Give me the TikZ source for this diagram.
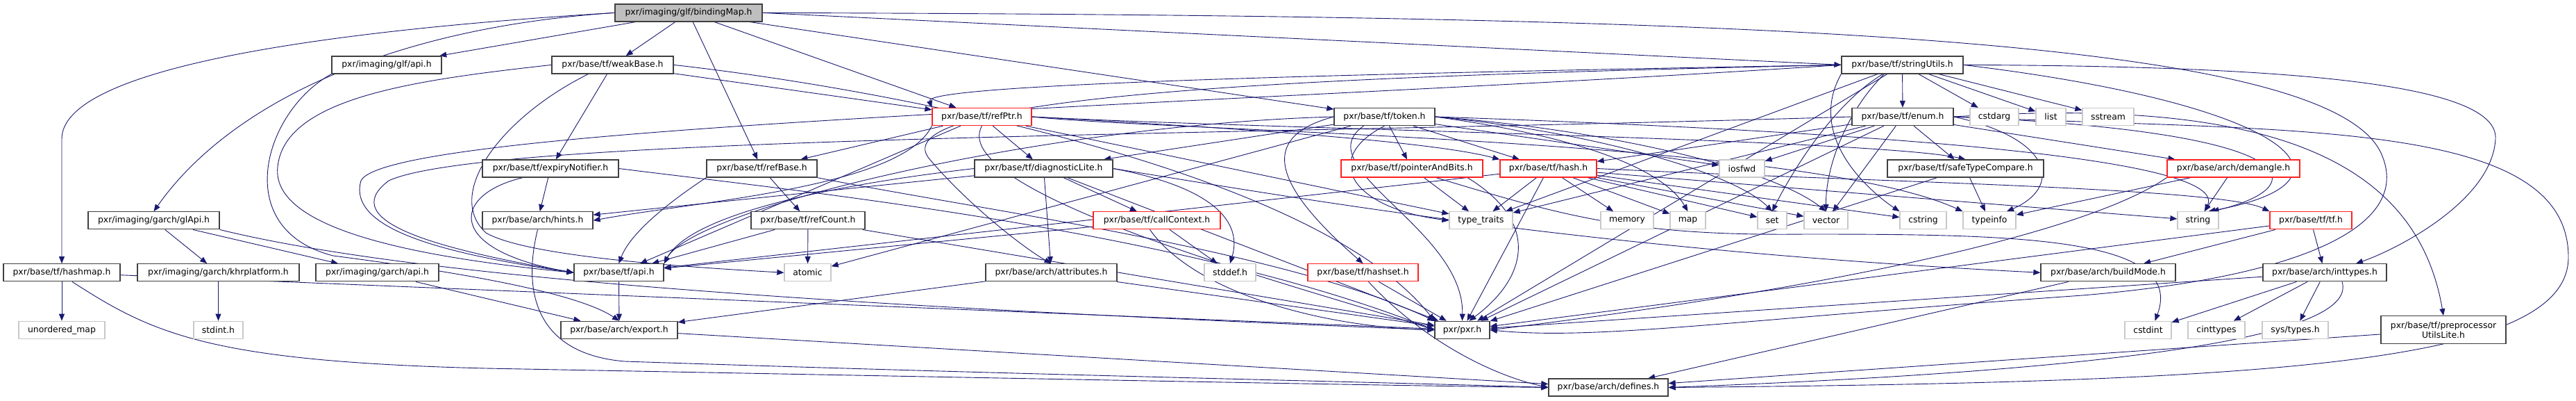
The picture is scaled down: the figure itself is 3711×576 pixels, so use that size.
\documentclass[tikz,border=0pt]{standalone}
\usepackage{fontspec}
\newfontfamily\djfont{DejaVu Sans}
\usetikzlibrary{arrows.meta}
\definecolor{edgeblue}{HTML}{191970}
\definecolor{boxborder}{HTML}{404040}
\definecolor{extgray}{HTML}{C8C8C8}
\definecolor{bmfill}{HTML}{BFBFBF}
\definecolor{truncred}{HTML}{FF2020}
\pgfdeclarelayer{bgpaper}
\pgfdeclarelayer{edges}
\pgfsetlayers{bgpaper,edges,main}
\begin{document}
\begin{tikzpicture}[x=1pt,y=-1pt,
  nb/.style={draw=boxborder, line width=1.3pt, fill=white, minimum height=25pt, inner sep=0pt,
    font={\djfont\fontsize{12.4}{13.6}\selectfont}, text=black},
  ext/.style={nb, draw=extgray},
  trunc/.style={nb, draw=truncred},
  e/.style={draw=edgeblue, line width=0.9pt, -{Triangle[length=10pt,width=8pt]}}]
\begin{pgfonlayer}{bgpaper}
\fill[white] (0,0) rectangle (3711,576);
\end{pgfonlayer}
\useasboundingbox (0,0) rectangle (3711,576);
% ---------------- nodes ----------------
\node[nb, fill=bmfill, minimum width=212pt] (bm) at (992,18.4) {pxr/imaging/glf/bindingMap.h};
\node[nb, minimum width=158pt] (glfapi) at (557,93.4) {pxr/imaging/glf/api.h};
\node[nb, minimum width=175pt] (weak) at (882.5,93.4) {pxr/base/tf/weakBase.h};
\node[nb, minimum width=175pt] (str) at (2740.5,93.4) {pxr/base/tf/stringUtils.h};
\node[trunc, minimum width=143pt] (refptr) at (1414.5,168) {pxr/base/tf/refPtr.h};
\node[nb, minimum width=145pt] (token) at (1994.5,168) {pxr/base/tf/token.h};
\node[nb, minimum width=146pt] (enum) at (2741,168) {pxr/base/tf/enum.h};
\node[ext, minimum width=70pt] (cstdarg) at (2873,168) {cstdarg};
\node[ext, minimum width=43pt] (list) at (2954.5,168) {list};
\node[ext, minimum width=74pt] (sstream) at (3037,168) {sstream};
\node[nb, minimum width=196pt] (expiry) at (793,242.5) {pxr/base/tf/expiryNotifier.h};
\node[nb, minimum width=159pt] (refbase) at (1097.5,242.5) {pxr/base/tf/refBase.h};
\node[nb, minimum width=199pt] (diag) at (1503.5,242.5) {pxr/base/tf/diagnosticLite.h};
\node[trunc, minimum width=204pt] (pab) at (2034,242.5) {pxr/base/tf/pointerAndBits.h};
\node[trunc, minimum width=139pt] (hash) at (2230.5,242.5) {pxr/base/tf/hash.h};
\node[ext, minimum width=65pt] (iosfwd) at (2509.5,242.5) {iosfwd};
\node[nb, minimum width=225pt] (stc) at (2831.5,242.5) {pxr/base/tf/safeTypeCompare.h};
\node[trunc, minimum width=191pt] (demangle) at (3217.5,242.5) {pxr/base/arch/demangle.h};
\node[nb, minimum width=189pt] (glapi) at (221.5,317.3) {pxr/imaging/garch/glApi.h};
\node[nb, minimum width=159pt] (hints) at (774.5,317.3) {pxr/base/arch/hints.h};
\node[nb, minimum width=164pt] (refcount) at (1164,317.3) {pxr/base/tf/refCount.h};
\node[trunc, minimum width=183pt] (callctx) at (1666.5,317.3) {pxr/base/tf/callContext.h};
\node[ext, minimum width=91pt] (typetraits) at (2133.5,317.3) {type\_traits};
\node[ext, minimum width=76pt] (memory) at (2344,317.3) {memory};
\node[ext, minimum width=51pt] (map) at (2431.5,317.3) {map};
\node[ext, minimum width=42pt] (set) at (2553,317.3) {set};
\node[ext, minimum width=63pt] (vector) at (2630.5,317.3) {vector};
\node[ext, minimum width=67pt] (cstring) at (2770.5,317.3) {cstring};
\node[ext, minimum width=76pt] (typeinfo) at (2866,317.3) {typeinfo};
\node[ext, minimum width=59pt] (string) at (3166.5,317.3) {string};
\node[trunc, minimum width=118pt] (tftf) at (3329,317.3) {pxr/base/tf/tf.h};
\node[nb, minimum width=168pt] (hashmap) at (89,392.3) {pxr/base/tf/hashmap.h};
\node[nb, minimum width=233pt] (khr) at (314.5,392.3) {pxr/imaging/garch/khrplatform.h};
\node[nb, minimum width=177pt] (garchapi) at (543.5,392.3) {pxr/imaging/garch/api.h};
\node[nb, minimum width=129pt] (tfapi) at (891.5,392.3) {pxr/base/tf/api.h};
\node[ext, minimum width=67pt] (atomic) at (1163.5,392.3) {atomic};
\node[nb, minimum width=189pt] (attr) at (1514.5,392.3) {pxr/base/arch/attributes.h};
\node[ext, minimum width=74pt] (stddef) at (1772,392.3) {stddef.h};
\node[trunc, minimum width=159pt] (hashset) at (1963.5,392.3) {pxr/base/tf/hashset.h};
\node[nb, minimum width=194pt] (buildmode) at (3037,392.3) {pxr/base/arch/buildMode.h};
\node[nb, minimum width=178pt] (inttypes) at (3349,392.3) {pxr/base/arch/inttypes.h};
\node[ext, minimum width=124pt] (umap) at (89,474.8) {unordered\_map};
\node[ext, minimum width=71pt] (stdint) at (314.5,474.8) {stdint.h};
\node[nb, minimum width=168pt] (export) at (892,474.8) {pxr/base/arch/export.h};
\node[nb, minimum width=79pt] (pxr) at (2106.5,474.8) {pxr/pxr.h};
\node[ext, minimum width=67pt] (cstdint) at (3094.5,474.8) {cstdint};
\node[ext, minimum width=82pt] (cinttypes) at (3193,474.8) {cinttypes};
\node[ext, minimum width=95pt] (systypes) at (3306.5,474.8) {sys/types.h};
\node[nb, minimum width=180pt, minimum height=40pt, align=center] (ppu) at (3520,474.8) {pxr/base/tf/preprocessor\\UtilsLite.h};
\node[nb, minimum width=172pt] (defines) at (2317,557.5) {pxr/base/arch/defines.h};
% ---------------- edges ----------------
\begin{pgfonlayer}{edges}
% bindingMap
\draw[e] (bm) -- (glfapi);
\draw[e] (bm.west) .. controls (560,40) and (330,150) .. (glapi.north);
\draw[e] (bm.west) .. controls (450,45) and (89,100) .. (89,200) -- (hashmap.north);
\draw[e] (bm) -- (weak);
\draw[e] (bm) -- (refbase);
\draw[e] (bm) -- (refptr);
\draw[e] (bm) -- (token);
\draw[e] (bm.east) -- (str.west);
\draw[e] (bm.east) .. controls (2500,22) and (3350,50) .. (3430,220) .. controls (3480,330) and (3300,400) .. (3000,425) .. controls (2500,460) and (2300,490) .. (pxr.east);
% glf/api
\draw[e] (glfapi.south west) .. controls (380,160) and (330,330) .. (480,368) .. controls (650,390) and (830,420) .. (export.north);
% weakBase
\draw[e] (weak) -- (expiry);
\draw[e] (weak.west) .. controls (600,115) and (410,140) .. (400,240) .. controls (390,330) and (600,370) .. (tfapi.west);
\draw[e] ([xshift=-35pt]weak.south) .. controls (720,170) and (640,280) .. (700,335) .. controls (760,370) and (1000,385) .. (atomic.west);
\draw[e] (weak) -- (refptr);
\draw[e] (weak.east) .. controls (1300,130) and (1900,250) .. (pxr.north west);
% stringUtils
\draw[e] (str) -- (enum);
\draw[e] (str) -- (cstdarg);
\draw[e] (str) -- (list);
\draw[e] (str) -- (sstream);
\draw[e] ([xshift=-28pt]str.south) .. controls (2640,150) and (2580,250) .. (set.north);
\draw[e] ([xshift=-26pt]str.south) .. controls (2660,160) and (2630,240) .. (vector.north);
\draw[e] (str.west) .. controls (2000,105) and (1330,120) .. (refptr.north west);
\draw[e] (str.west) .. controls (2000,108) and (1250,130) .. (1340,230) .. controls (1400,300) and (1480,360) .. (attr.north);
\draw[e] (str.west) .. controls (1800,150) and (560,180) .. (520,260) .. controls (500,330) and (640,365) .. (tfapi.west);
\draw[e] (str.east) .. controls (3300,95) and (3600,120) .. (3595,200) .. controls (3590,290) and (3450,360) .. ([xshift=45pt]inttypes.north);
\draw[e] (str.east) .. controls (3300,150) and (3420,260) .. ([xshift=15pt]string.north);
\draw[e] (str.south west) .. controls (2600,200) and (2700,280) .. (cstring.north west);
\draw[e] (str) -- (typetraits);
\draw[e] (str) -- (pxr);
% refPtr
\draw[e] (refptr) -- (diag);
\draw[e] (refptr) -- (refbase);
\draw[e] (refptr.east) .. controls (1800,185) and (2700,200) .. (stc.north);
\draw[e] (refptr) -- (tfapi);
\draw[e] (refptr.south west) .. controls (1300,270) and (1000,290) .. (hints.east);
\draw[e] (refptr.east) .. controls (1700,190) and (2600,200) .. (typeinfo.north west);
\draw[e] (refptr) -- (typetraits);
\draw[e] (refptr.east) .. controls (1700,180) and (2050,200) .. (hash.north west);
\draw[e] (refptr.south) .. controls (1360,280) and (1900,420) .. (pxr.west);
% token
\draw[e] (token) -- (pab);
\draw[e] (token) -- (hash);
\draw[e] (token.south) .. controls (1900,230) and (1950,300) .. (typetraits.west);
\draw[e] ([xshift=-30pt]token.south) .. controls (1880,240) and (2110,330) .. (pxr.north);
\draw[e] (token.west) .. controls (1800,200) and (1850,280) .. (hashset.north);
\draw[e] (token) -- (iosfwd);
\draw[e] (token.east) .. controls (2300,190) and (2500,250) .. (set.north);
\draw[e] (token.east) .. controls (2300,185) and (2550,240) .. (vector.north);
\draw[e] (token.east) .. controls (2300,200) and (2400,250) .. (map.north);
\draw[e] (token.east) .. controls (3000,200) and (3200,250) .. ([xshift=10pt]string.north);
\draw[e] (token.west) .. controls (1500,180) and (1000,300) .. (tfapi.north east);
\draw[e] (token) -- (diag);
\draw[e] (token) -- (atomic);
% enum
\draw[e] (enum) -- (iosfwd);
\draw[e] (enum) -- (vector);
\draw[e] (enum) -- (stc);
\draw[e] (enum.west) .. controls (1800,195) and (700,195) .. (560,260) .. controls (480,320) and (640,360) .. (tfapi.west);
\draw[e] (enum) -- (typetraits);
\draw[e] (enum) -- (demangle);
\draw[e] (enum.east) .. controls (3340,190) and (3330,270) .. ([xshift=20pt]string.north);
\draw[e] (enum.east) .. controls (2960,200) and (2970,270) .. ([xshift=25pt]typeinfo.north);
\draw[e] (enum.east) .. controls (3250,140) and (3480,220) .. (ppu.north);
\draw[e] (enum.east) .. controls (3300,190) and (3700,170) .. (3700,370) .. controls (3700,520) and (3300,550) .. (defines.east);
\draw[e] (enum) -- (pxr);
\draw[e] (enum) -- (hash);
% expiryNotifier
\draw[e] (expiry) -- (hints);
\draw[e] ([xshift=-40pt]expiry.south) .. controls (650,280) and (640,360) .. (tfapi.west);
\draw[e] (expiry.east) .. controls (1150,275) and (1700,330) .. (pxr.west);
% refBase
\draw[e] (refbase) -- (refcount);
\draw[e] (refbase.south west) .. controls (980,280) and (910,330) .. (tfapi.north);
\draw[e] (refbase.south east) .. controls (1400,300) and (1850,360) .. (pxr.north west);
% diagnosticLite
\draw[e] (diag) -- (attr);
\draw[e] (diag) -- (callctx);
\draw[e] (diag.east) .. controls (1750,270) and (1790,320) .. (stddef.north);
\draw[e] (diag.west) .. controls (1250,260) and (1000,300) .. (tfapi.north east);
\draw[e] (diag) -- (hints);
\draw[e] (diag.east) .. controls (1900,290) and (2300,360) .. (buildmode.west);
\draw[e] (diag) -- (pxr);
% pointerAndBits
\draw[e] (pab) -- (typetraits);
\draw[e] ([xshift=80pt]pab.south) .. controls (2220,320) and (2200,400) .. ([xshift=10pt]pxr.north);
\draw[e] ([xshift=35pt]pab.south) .. controls (2250,310) and (2350,340) .. (2600,337) .. controls (2900,337) and (3150,340) .. ([xshift=10pt]cstdint.north);
% hash
\draw[e] (hash) -- (typetraits);
\draw[e] (hash) -- (memory);
\draw[e] (hash) -- (map);
\draw[e] (hash) -- (set);
\draw[e] (hash) -- (vector);
\draw[e] (hash) -- (cstring);
\draw[e] (hash) -- (string);
\draw[e] (hash.east) .. controls (2700,262) and (3200,270) .. (tftf.north west);
\draw[e] (hash) -- (tfapi);
\draw[e] (hash) -- (pxr);
% safeTypeCompare, demangle
\draw[e] (stc) -- (typeinfo);
\draw[e] (stc) -- (pxr);
\draw[e] (demangle) -- (string);
\draw[e] (demangle) -- (typeinfo);
\draw[e] (demangle.south west) .. controls (3000,340) and (2600,420) .. (pxr.east);
% glApi
\draw[e] (glapi) -- (khr);
\draw[e] (glapi) -- (garchapi);
\draw[e] (glapi.south east) .. controls (600,400) and (1200,440) .. (pxr.west);
% hints, refCount, callContext, tf.h
\draw[e] (hints.south) .. controls (750,430) and (780,510) .. (900,520) .. controls (1500,540) and (2000,550) .. (defines.west);
\draw[e] (refcount) -- (atomic);
\draw[e] (refcount) -- (tfapi);
\draw[e] (refcount) -- (pxr);
\draw[e] (callctx) -- (stddef);
\draw[e] ([xshift=-10pt]callctx.south) .. controls (1720,420) and (1900,470) .. (pxr.west);
\draw[e] (callctx) -- (tfapi);
\draw[e] (tftf) -- (inttypes);
\draw[e] (tftf) -- (buildmode);
\draw[e] (tftf) -- (pxr);
% row 5
\draw[e] (hashmap) -- (umap);
\draw[e] (hashmap) -- (pxr);
\draw[e] ([xshift=15pt]hashmap.south) .. controls (220,480) and (300,520) .. (700,530) .. controls (1500,545) and (2000,555) .. (defines.west);
\draw[e] (khr) -- (stdint);
\draw[e] (garchapi) -- (export);
\draw[e] (tfapi) -- (export);
\draw[e] (attr) -- (export);
\draw[e] (attr) -- (pxr);
\draw[e] (hashset) -- (pxr);
\draw[e] ([xshift=8pt]hashset.south) .. controls (2050,490) and (2150,540) .. (defines.west);
\draw[e] (buildmode) -- (defines);
\draw[e] (inttypes) -- (cstdint);
\draw[e] (inttypes) -- (cinttypes);
\draw[e] (inttypes) -- (systypes);
\draw[e] ([xshift=25pt]inttypes.south) .. controls (3400,490) and (3000,535) .. (defines.east);
\draw[e] (inttypes) -- (pxr);
% row 6
\draw[e] (export) -- (defines);
\draw[e] (ppu) -- (defines);
\end{pgfonlayer}
\end{tikzpicture}
\end{document}
